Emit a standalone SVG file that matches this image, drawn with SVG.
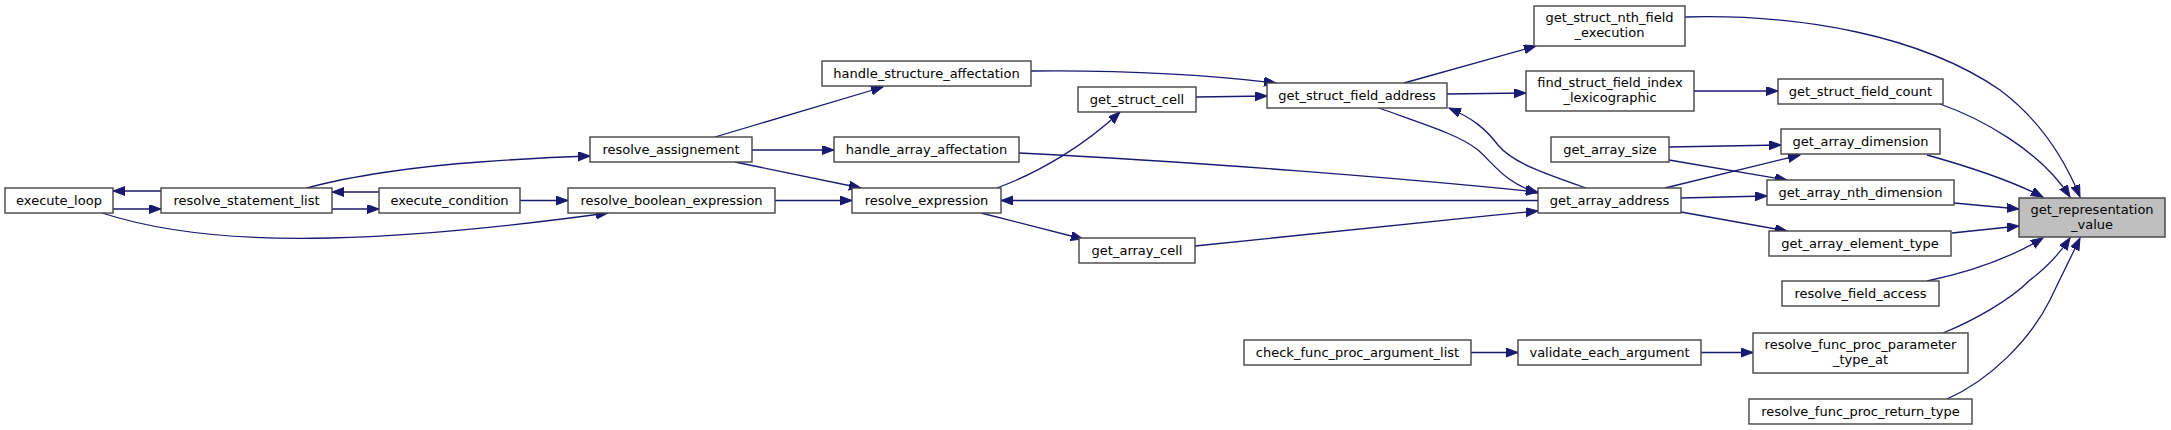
<svg xmlns="http://www.w3.org/2000/svg" width="2171" height="430" viewBox="0 0 2171 430">
<style>
.n rect{fill:#ffffff;stroke:#444444;stroke-width:1.4}
.root rect{fill:#bfbfbf;stroke:#404040;stroke-width:1.4}
text{font-family:"DejaVu Sans",sans-serif;font-size:13px;fill:#000000;text-anchor:middle}
#edges path{fill:none;stroke:#191970;stroke-width:1.3;marker-end:url(#ah)}
</style>
<defs>
<marker id="ah" markerUnits="userSpaceOnUse" markerWidth="13" markerHeight="10" refX="12" refY="4.5" orient="auto">
<path d="M0,0 L12,4.5 L0,9 z" fill="#191970" stroke="#191970" stroke-width="1"/>
</marker>
</defs>
<rect x="0" y="0" width="2171" height="430" fill="#ffffff"/>
<g id="edges">
<path d="M161,191 L113,191"/>
<path d="M113,209 L161,209"/>
<path d="M379,192 L332,192"/>
<path d="M332,209 L379,209"/>
<path d="M520,200.5 L568,200.5"/>
<path d="M102,213 C170,235 250,240 330,238 C420,236 520,225 608,213"/>
<path d="M307,188 C350,176 420,166 480,162 C520,159 555,157 590,156"/>
<path d="M715,137 L883,87"/>
<path d="M752,150 L834,150"/>
<path d="M735,162 L861,188"/>
<path d="M775,200.5 L852,200.5"/>
<path d="M1538,200.5 L1001,200.5"/>
<path d="M997,188 C1040,172 1085,145 1120,112"/>
<path d="M981,213 L1083,239"/>
<path d="M1031,71 C1120,70 1200,74 1276,83"/>
<path d="M1196,97 L1267,96"/>
<path d="M1019,153 C1200,162 1400,178 1538,192"/>
<path d="M1195,246 C1300,236 1420,222 1538,211"/>
<path d="M1404,83 L1536,46"/>
<path d="M1447,94 L1526,93"/>
<path d="M1379,108 C1420,123 1460,135 1478,150 C1495,165 1505,183 1538,193"/>
<path d="M1586,188 C1540,172 1512,162 1498,145 C1485,128 1472,118 1449,108"/>
<path d="M1694,91 L1778,91"/>
<path d="M1669,147 L1781,145"/>
<path d="M1669,160 L1787,180"/>
<path d="M1665,188 L1800,155"/>
<path d="M1681,198 L1767,196"/>
<path d="M1681,212 L1787,231"/>
<path d="M1471,352.5 L1518,352.5"/>
<path d="M1701,352.5 L1753,352.5"/>
<path d="M1685,17 C1800,14 1920,35 2000,90 C2040,120 2065,160 2080,197"/>
<path d="M1940,104 C1980,118 2040,150 2070,197"/>
<path d="M1927,155 C1970,167 2010,180 2043,197"/>
<path d="M1954,203 L2019,209"/>
<path d="M1952,233 L2019,226"/>
<path d="M1927,281 C1970,272 2010,258 2043,238"/>
<path d="M1943,333 C1975,320 2010,300 2030,280 C2050,265 2062,250 2070,238"/>
<path d="M1947,399 C1990,380 2030,340 2050,300 C2062,275 2072,255 2080,238"/>
</g>
<g id="execute_loop" class="n"><rect x="5" y="188" width="108" height="25"/><text x="59" y="204.5">execute_loop</text></g>
<g id="resolve_statement_list" class="n"><rect x="161" y="188" width="171" height="25"/><text x="246.5" y="204.5">resolve_statement_list</text></g>
<g id="execute_condition" class="n"><rect x="379" y="188" width="141" height="25"/><text x="449.5" y="204.5">execute_condition</text></g>
<g id="resolve_boolean_expression" class="n"><rect x="568" y="188" width="207" height="25"/><text x="671.5" y="204.5">resolve_boolean_expression</text></g>
<g id="resolve_assignement" class="n"><rect x="590" y="137" width="162" height="25"/><text x="671" y="153.5">resolve_assignement</text></g>
<g id="handle_structure_affectation" class="n"><rect x="822" y="61" width="209" height="25"/><text x="926.5" y="77.5">handle_structure_affectation</text></g>
<g id="handle_array_affectation" class="n"><rect x="834" y="137" width="185" height="25"/><text x="926.5" y="153.5">handle_array_affectation</text></g>
<g id="resolve_expression" class="n"><rect x="852" y="188" width="149" height="25"/><text x="926.5" y="204.5">resolve_expression</text></g>
<g id="get_struct_cell" class="n"><rect x="1078" y="87" width="118" height="25"/><text x="1137" y="103.5">get_struct_cell</text></g>
<g id="get_array_cell" class="n"><rect x="1079" y="238" width="116" height="25"/><text x="1137" y="254.5">get_array_cell</text></g>
<g id="get_struct_field_address" class="n"><rect x="1267" y="83" width="180" height="25"/><text x="1357" y="99.5">get_struct_field_address</text></g>
<g id="check_func_proc_argument_list" class="n"><rect x="1244" y="340" width="227" height="25"/><text x="1357.5" y="356.5">check_func_proc_argument_list</text></g>
<g id="get_struct_nth_field_execution" class="n"><rect x="1534" y="6" width="151" height="40"/><text x="1609.5" y="22">get_struct_nth_field</text><text x="1609.5" y="37">_execution</text></g>
<g id="find_struct_field_index_lexicographic" class="n"><rect x="1526" y="71" width="168" height="40"/><text x="1610" y="87">find_struct_field_index</text><text x="1610" y="102">_lexicographic</text></g>
<g id="get_array_size" class="n"><rect x="1551" y="137" width="118" height="25"/><text x="1610" y="153.5">get_array_size</text></g>
<g id="get_array_address" class="n"><rect x="1538" y="188" width="143" height="25"/><text x="1609.5" y="204.5">get_array_address</text></g>
<g id="validate_each_argument" class="n"><rect x="1518" y="340" width="183" height="25"/><text x="1609.5" y="356.5">validate_each_argument</text></g>
<g id="get_struct_field_count" class="n"><rect x="1778" y="79" width="165" height="25"/><text x="1860.5" y="95.5">get_struct_field_count</text></g>
<g id="get_array_dimension" class="n"><rect x="1781" y="129" width="159" height="25"/><text x="1860.5" y="145.5">get_array_dimension</text></g>
<g id="get_array_nth_dimension" class="n"><rect x="1767" y="180" width="187" height="25"/><text x="1860.5" y="196.5">get_array_nth_dimension</text></g>
<g id="get_array_element_type" class="n"><rect x="1769" y="231" width="182" height="25"/><text x="1860" y="247.5">get_array_element_type</text></g>
<g id="resolve_field_access" class="n"><rect x="1782" y="281" width="157" height="25"/><text x="1860.5" y="297.5">resolve_field_access</text></g>
<g id="resolve_func_proc_parameter_type_at" class="n"><rect x="1753" y="333" width="215" height="40"/><text x="1860.5" y="349">resolve_func_proc_parameter</text><text x="1860.5" y="364">_type_at</text></g>
<g id="resolve_func_proc_return_type" class="n"><rect x="1749" y="399" width="223" height="25"/><text x="1860.5" y="415.5">resolve_func_proc_return_type</text></g>
<g id="get_representation_value" class="root"><rect x="2019" y="198" width="146" height="39"/><text x="2092" y="214">get_representation</text><text x="2092" y="229">_value</text></g>
</svg>
